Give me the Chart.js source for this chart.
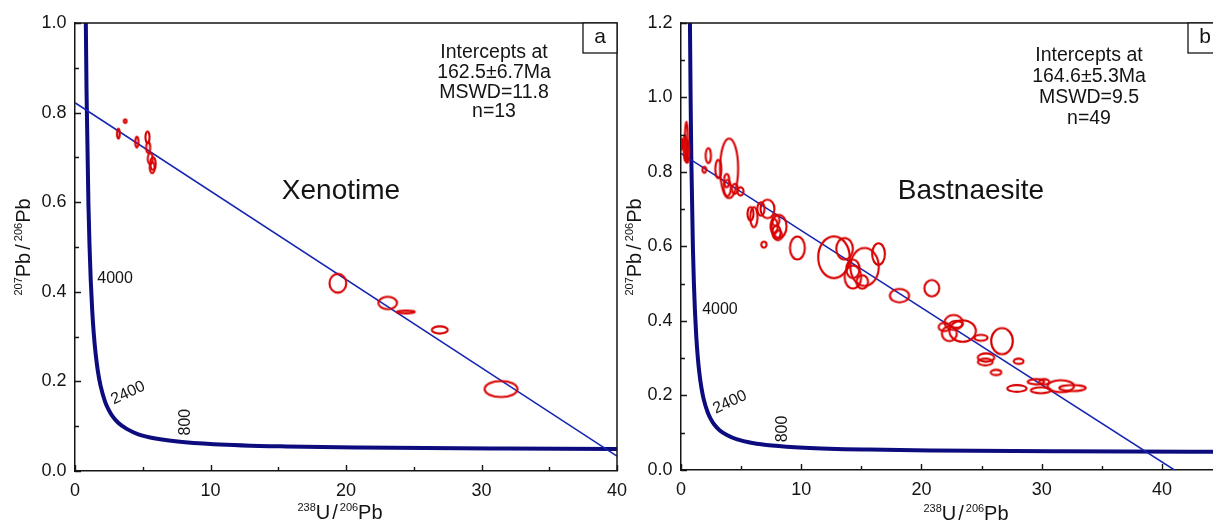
<!DOCTYPE html>
<html><head><meta charset="utf-8">
<script src="https://cdn.jsdelivr.net/npm/chart.js@4.4.1/dist/chart.umd.min.js"></script>
<style>
html,body{margin:0;padding:0;background:#fff;overflow:hidden;}
body{width:1213px;height:521px;position:relative;}
canvas{position:absolute;top:0;}
#ca{left:0;}
#cb{left:620px;}
</style></head><body>
<canvas id="ca" width="640" height="521"></canvas>
<canvas id="cb" width="620" height="521"></canvas>
<script>
// ---------- concordia (ordered by 238U/206Pb) ----------
const concordiaX = [0.742, 0.806, 0.853, 0.99, 1.071, 1.163, 1.267, 1.387, 1.525, 1.687, 1.880, 2.217, 2.459, 2.749, 3.206, 3.817, 4.673, 5.959, 7.568, 10.25, 15.62, 20.99, 31.73, 42.48, 49.09];
const concordiaY = [1.207, 0.979, 0.845, 0.597, 0.503, 0.425, 0.360, 0.306, 0.261, 0.223, 0.191, 0.155, 0.138, 0.123, 0.107, 0.094, 0.082, 0.0725, 0.0658, 0.0599, 0.0547, 0.0523, 0.0501, 0.0490, 0.0486];

// ---------- panel a : Xenotime ----------
const xenoDiscX = [0, 40];
const xenoDiscY = [0.822, 0.033];
const xenoX  = [3.70, 3.20, 4.56, 5.35, 5.40, 5.55, 5.75, 5.70, 19.40, 23.08, 24.41, 26.92, 31.44];
const xenoY  = [0.781, 0.753, 0.734, 0.745, 0.722, 0.697, 0.686, 0.677, 0.419, 0.375, 0.355, 0.315, 0.183];
const xenoEx = [0.10, 0.10, 0.12, 0.15, 0.15, 0.18, 0.20, 0.18, 0.62, 0.69, 0.67, 0.59, 1.21];
const xenoEy = [0.004, 0.011, 0.012, 0.013, 0.012, 0.012, 0.014, 0.012, 0.021, 0.014, 0.003, 0.008, 0.018];

// ---------- panel b : Bastnaesite ----------
const bastDiscX = [0, 41.04];
const bastDiscY = [0.85, 0];
const bastX  = [0.45, 0.35, 0.55, 0.08, 2.27, 1.94, 3.10, 4.00, 3.79, 3.85, 4.48, 4.95, 5.78, 6.06, 6.64, 7.19, 6.89, 8.16, 7.75, 7.94, 8.07, 7.88, 9.68, 12.72, 13.61, 15.27, 16.43, 14.30, 14.30, 15.08, 18.17, 20.86, 22.68, 22.32, 23.43, 21.91, 22.88, 24.95, 26.70, 25.37, 25.31, 28.08, 26.20, 27.94, 29.52, 30.21, 29.93, 31.59, 32.56];
const bastY  = [0.880, 0.865, 0.855, 0.875, 0.844, 0.806, 0.808, 0.810, 0.777, 0.757, 0.755, 0.748, 0.688, 0.679, 0.701, 0.701, 0.605, 0.654, 0.654, 0.638, 0.630, 0.670, 0.596, 0.571, 0.594, 0.545, 0.580, 0.540, 0.518, 0.505, 0.468, 0.488, 0.396, 0.366, 0.373, 0.384, 0.391, 0.355, 0.346, 0.302, 0.290, 0.292, 0.262, 0.219, 0.237, 0.237, 0.214, 0.225, 0.220];
const bastEx = [0.13, 0.12, 0.12, 0.08, 0.22, 0.15, 0.25, 0.75, 0.22, 0.30, 0.25, 0.25, 0.25, 0.30, 0.30, 0.58, 0.22, 0.62, 0.30, 0.35, 0.35, 0.30, 0.62, 1.31, 0.69, 1.18, 0.53, 0.55, 0.69, 0.48, 0.80, 0.62, 0.76, 0.62, 1.10, 0.48, 0.55, 0.55, 0.90, 0.69, 0.62, 0.41, 0.44, 0.80, 0.69, 0.41, 0.83, 1.10, 1.10];
const bastEy = [0.055, 0.035, 0.030, 0.015, 0.020, 0.008, 0.0245, 0.080, 0.018, 0.022, 0.013, 0.011, 0.018, 0.027, 0.018, 0.025, 0.008, 0.031, 0.020, 0.018, 0.013, 0.015, 0.031, 0.056, 0.029, 0.051, 0.029, 0.025, 0.031, 0.018, 0.018, 0.022, 0.020, 0.020, 0.029, 0.011, 0.009, 0.008, 0.035, 0.011, 0.009, 0.007, 0.007, 0.009, 0.007, 0.007, 0.008, 0.016, 0.008];

// ---------- texts ----------
const xenoAnnot = ['Intercepts at', '162.5\u00B16.7Ma', 'MSWD=11.8', 'n=13'];
const bastAnnot = ['Intercepts at', '164.6\u00B15.3Ma', 'MSWD=9.5', 'n=49'];
const ageLabels = ['4000', '2400', '800'];

const FONT = '"Liberation Sans", Arial, sans-serif';
const INK = '#141414';

function pts(xs, ys) { return xs.map((x, i) => ({ x: x, y: ys[i] })); }

function ellipseStyle(ex, ey, color, lw) {
  return (c) => {
    if (c.type !== 'data' || c.dataIndex === undefined) return 'circle';
    const xs = c.chart.scales.x, ys = c.chart.scales.y;
    const i = c.dataIndex, raw = c.raw;
    const rx = Math.abs(xs.getPixelForValue(raw.x + ex[i]) - xs.getPixelForValue(raw.x));
    const ry = Math.abs(ys.getPixelForValue(raw.y + ey[i]) - ys.getPixelForValue(raw.y));
    if (!isFinite(rx) || !isFinite(ry)) return 'circle';
    const pad = lw + 2;
    const cv = document.createElement('canvas');
    cv.width = Math.ceil(2 * rx + 2 * pad);
    cv.height = Math.ceil(2 * ry + 2 * pad);
    const g = cv.getContext('2d');
    g.strokeStyle = color; g.lineWidth = lw;
    g.beginPath();
    g.ellipse(cv.width / 2, cv.height / 2, Math.max(rx, 0.6), Math.max(ry, 0.6), 0, 0, Math.PI * 2);
    g.stroke();
    return cv;
  };
}

function drawParts(ctx, parts, big, small) {
  let total = 0;
  const w = parts.map(p => {
    ctx.font = (p[1] ? small : big) + 'px ' + FONT;
    const m = ctx.measureText(p[0]).width + (p[2] || 0) * 2;
    total += m; return m;
  });
  let x = -total / 2;
  parts.forEach((p, i) => {
    ctx.font = (p[1] ? small : big) + 'px ' + FONT;
    ctx.fillText(p[0], x + (p[2] || 0), p[1] ? -8 : 0);
    x += w[i];
  });
}

const decoPlugin = {
  id: 'deco',
  afterDraw(chart, args, o) {
    const ctx = chart.ctx, ca = chart.chartArea, xs = chart.scales.x, ys = chart.scales.y;
    ctx.save();
    ctx.strokeStyle = INK; ctx.lineWidth = 1.5;
    ctx.beginPath();
    ctx.moveTo(ca.left, ca.top); ctx.lineTo(ca.right, ca.top); ctx.lineTo(ca.right, ca.bottom);
    ctx.stroke();
    ctx.lineWidth = 1.4;
    ctx.beginPath();
    const nx = Math.round((xs.max - xs.min) / o.minorX);
    for (let k = 0; k <= nx; k++) {
      const v = xs.min + k * o.minorX;
      const px = Math.round(xs.getPixelForValue(v)) + 0.5;
      const major = Math.abs(v / o.majorX - Math.round(v / o.majorX)) < 1e-6;
      ctx.moveTo(px, ca.bottom); ctx.lineTo(px, ca.bottom - (major ? 6 : 4));
    }
    const ny = Math.round((ys.max - ys.min) / o.minorY);
    for (let k = 0; k <= ny; k++) {
      const v = ys.min + k * o.minorY;
      const py = Math.round(ys.getPixelForValue(v)) + 0.5;
      const major = Math.abs(v / o.majorY - Math.round(v / o.majorY)) < 1e-6;
      ctx.moveTo(ca.left, py); ctx.lineTo(ca.left + (major ? 6 : 4), py);
    }
    ctx.stroke();
    ctx.lineWidth = 1.3;
    ctx.fillStyle = '#fff';
    ctx.fillRect(ca.right - 34, ca.top, 34, 30);
    ctx.strokeRect(ca.right - 34, ca.top, 34, 30);
    ctx.fillStyle = INK;
    ctx.font = '21px ' + FONT; ctx.textAlign = 'center'; ctx.textBaseline = 'middle';
    ctx.fillText(o.letter, ca.right - 17, ca.top + 14);
    ctx.font = o.annotFont + 'px ' + FONT;
    o.annot.forEach((t, i) => ctx.fillText(t, o.annotX, o.annotY + i * o.annotDy));
    ctx.font = '28px ' + FONT;
    ctx.fillText(o.mineral, o.mineralX, o.mineralY);
    ctx.font = '16px ' + FONT;
    o.ages.forEach(a => {
      ctx.save();
      ctx.translate(xs.getPixelForValue(a.x), ys.getPixelForValue(a.y));
      ctx.rotate(a.r * Math.PI / 180);
      ctx.fillText(a.t, 0, 0);
      ctx.restore();
    });
    ctx.textAlign = 'left'; ctx.textBaseline = 'alphabetic';
    ctx.save();
    ctx.translate(o.xTitleX, o.xTitleY);
    drawParts(ctx, [['238', true], ['U', false], ['/', false, 2], ['206', true], ['Pb', false]], 20, 11);
    ctx.restore();
    ctx.save();
    ctx.translate(o.yTitleX, o.yTitleY);
    ctx.rotate(-Math.PI / 2);
    drawParts(ctx, [['207', true], ['Pb', false], ['/', false, 3], ['206', true], ['Pb', false]], 20, 11);
    ctx.restore();
    ctx.restore();
  }
};

function makeChart(id, d) {
  return new Chart(document.getElementById(id), {
    type: 'scatter',
    data: {
      datasets: [
        {
          label: 'analyses',
          data: pts(d.ex, d.ey),
          pointStyle: ellipseStyle(d.errX, d.errY, '#d80000', 2.1),
          pointRadius: 3, pointBorderWidth: 0, showLine: false
        },
        {
          label: 'discordia',
          data: pts(d.discX, d.discY),
          showLine: true, borderColor: '#1626b0', borderWidth: 1.5, pointRadius: 0
        },
        {
          label: 'concordia',
          data: pts(concordiaX, concordiaY),
          showLine: true, borderColor: '#0c0c7e', borderWidth: 4, pointRadius: 0,
          cubicInterpolationMode: 'monotone'
        }
      ]
    },
    options: {
      responsive: false, animation: false, events: [], devicePixelRatio: 1,
      layout: { padding: { top: 23, left: 0, right: d.padRight, bottom: 0 } },
      plugins: {
        legend: { display: false }, tooltip: { enabled: false },
        deco: d.deco
      },
      scales: {
        x: {
          type: 'linear', min: 0, max: d.xMax,
          grid: { display: false },
          border: { display: true, color: INK, width: 1.5 },
          ticks: { stepSize: 10, includeBounds: false, autoSkip: false, padding: 1.5, color: INK,
                   font: { family: FONT, size: 18 }, maxRotation: 0 },
          afterFit: s => { s.height = d.xHeight; }
        },
        y: {
          type: 'linear', min: 0, max: d.yMax,
          grid: { display: false },
          border: { display: true, color: INK, width: 1.5 },
          ticks: { stepSize: 0.2, autoSkip: false, padding: 0.5, color: INK,
                   font: { family: FONT, size: 18 }, callback: v => Number(v).toFixed(1) },
          afterFit: s => { s.width = d.yWidth; }
        }
      }
    },
    plugins: [decoPlugin]
  });
}

makeChart('ca', {
  ex: xenoX, ey: xenoY, errX: xenoEx, errY: xenoEy, discX: xenoDiscX, discY: xenoDiscY,
  xMax: 40, yMax: 1.0, padRight: 23, xHeight: 50, yWidth: 75,
  deco: {
    letter: 'a', annot: xenoAnnot, annotX: 494, annotY: 53, annotDy: 19.7, annotFont: 19.5,
    mineral: 'Xenotime', mineralX: 341, mineralY: 191,
    xTitleX: 340, xTitleY: 519, yTitleX: 30, yTitleY: 247,
    minorX: 5, majorX: 10, minorY: 0.1, majorY: 0.2,
    ages: [
      { t: ageLabels[0], x: 2.96, y: 0.429, r: 0 },
      { t: ageLabels[1], x: 3.92, y: 0.174, r: -25 },
      { t: ageLabels[2], x: 8.14, y: 0.109, r: -90 }
    ]
  }
});

makeChart('cb', {
  ex: bastX, ey: bastY, errX: bastEx, errY: bastEy, discX: bastDiscX, discY: bastDiscY,
  xMax: 45, yMax: 1.2, padRight: 18, xHeight: 51, yWidth: 61,
  deco: {
    letter: 'b', annot: bastAnnot, annotX: 469, annotY: 56, annotDy: 21, annotFont: 19.5,
    mineral: 'Bastnaesite', mineralX: 351, mineralY: 191,
    xTitleX: 346, xTitleY: 520, yTitleX: 21, yTitleY: 247,
    minorX: 5, majorX: 10, minorY: 0.1, majorY: 0.2,
    ages: [
      { t: ageLabels[0], x: 3.24, y: 0.431, r: 0 },
      { t: ageLabels[1], x: 4.07, y: 0.182, r: -25 },
      { t: ageLabels[2], x: 8.48, y: 0.110, r: -90 }
    ]
  }
});
</script></body></html>
